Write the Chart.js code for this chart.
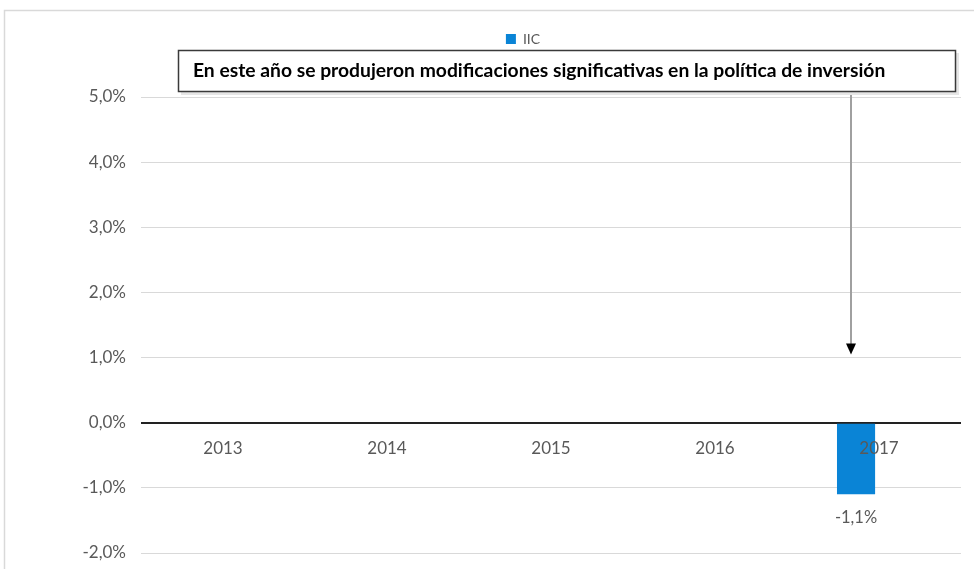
<!DOCTYPE html>
<html>
<head>
<meta charset="utf-8">
<script src="https://cdn.jsdelivr.net/npm/chart.js@4.4.1/dist/chart.umd.min.js"></script>
<style>
  html, body { margin: 0; padding: 0; background: #fff; overflow: hidden; }
  canvas { display: block; }
</style>
</head>
<body>
<canvas id="chart" width="974" height="569"></canvas>
<script>
// chart data
const years = ['2013', '2014', '2015', '2016', '2017'];
const iicValues = [null, null, null, null, -1.1];
const benchmarkValues = [null, null, null, null, null]; // empty second series, keeps IIC bar on the left of its slot
const yTicks = [5, 4, 3, 2, 1, 0, -1, -2];
const noteText = 'En este año se produjeron modificaciones significativas en la política de inversión';

const greyText = '#595959';
const fmtPct = v => v.toFixed(1).replace('.', ',') + '%';

Chart.defaults.font.family = 'Lato';

// frame, note box, arrow and value label
const extrasPlugin = {
    id: 'extras',
    beforeDraw(chart) {
        const ctx = chart.ctx;
        ctx.save();
        ctx.strokeStyle = '#d9d9d9';
        ctx.lineWidth = 1.5;
        ctx.strokeRect(4.5, 10.5, 1100, 700);
        ctx.restore();
    },
    afterDraw(chart) {
        const ctx = chart.ctx;
        const y = chart.scales.y;
        const bar = chart.getDatasetMeta(0).data[4];
        ctx.save();

        // value label under the bar
        ctx.fillStyle = greyText;
        ctx.font = '16.5px Lato';
        ctx.textAlign = 'center';
        ctx.textBaseline = 'middle';
        ctx.fillText(fmtPct(iicValues[4]), bar.x, bar.y + 23);

        // arrow
        const ax = Math.round(bar.x) - 5;
        const tipY = y.getPixelForValue(1) - 3;
        ctx.strokeStyle = '#a0a0a0';
        ctx.lineWidth = 2;
        ctx.beginPath();
        ctx.moveTo(ax, 92);
        ctx.lineTo(ax, tipY - 10);
        ctx.stroke();
        ctx.fillStyle = '#000';
        ctx.beginPath();
        ctx.moveTo(ax - 5, tipY - 11);
        ctx.lineTo(ax + 5, tipY - 11);
        ctx.lineTo(ax, tipY);
        ctx.closePath();
        ctx.fill();

        // note box
        ctx.fillStyle = '#e6e6e6';
        ctx.fillRect(181, 53, 778, 42);
        ctx.fillStyle = '#fff';
        ctx.fillRect(178, 50, 778, 42);
        ctx.strokeStyle = '#3a3a3a';
        ctx.lineWidth = 1.5;
        ctx.strokeRect(178.5, 50.5, 777, 41);
        ctx.fillStyle = '#000';
        ctx.font = 'bold 19.3px Lato';
        ctx.textAlign = 'left';
        ctx.fillText(noteText, 193, 71);

        ctx.restore();
    }
};

new Chart(document.getElementById('chart'), {
    type: 'bar',
    data: {
        labels: years,
        datasets: [{
            label: 'IIC',
            data: iicValues,
            backgroundColor: '#0a84d6',
            categoryPercentage: 0.56,
            barPercentage: 0.83
        }, {
            label: 'Índice',
            data: benchmarkValues,
            backgroundColor: '#a5a5a5',
            categoryPercentage: 0.56,
            barPercentage: 0.83
        }]
    },
    options: {
        responsive: false,
        animation: false,
        layout: {
            padding: { top: 22, left: 72, right: 0, bottom: 16 }
        },
        plugins: {
            legend: {
                display: true,
                position: 'top',
                labels: {
                    boxWidth: 10,
                    boxHeight: 10,
                    padding: 10,
                    color: greyText,
                    font: { size: 14 },
                    filter: item => item.text === 'IIC'
                }
            },
            tooltip: { enabled: false }
        },
        scales: {
            x: {
                type: 'category',
                position: { y: 0 },
                afterFit: scale => {
                    scale.paddingLeft = 0;
                    scale.paddingRight = 0;
                    scale.paddingTop = 0;
                    scale.paddingBottom = 0;
                },
                grid: { display: false, drawTicks: false },
                border: { display: false },
                // z: 1 puts the year labels on top of the bar
                ticks: { z: 1, color: greyText, font: { size: 17 }, padding: 16, maxRotation: 0 }
            },
            y: {
                min: -2,
                max: 5,
                afterFit: scale => {
                    scale.width = 69;
                    scale.paddingTop = 0;
                    scale.paddingBottom = 0;
                },
                afterBuildTicks: scale => { scale.ticks = yTicks.map(v => ({ value: v })); },
                grid: {
                    color: c => c.tick && c.tick.value === 0 ? '#222' : '#d9d9d9',
                    lineWidth: c => c.tick && c.tick.value === 0 ? 2 : 1,
                    drawTicks: false
                },
                border: { display: false },
                ticks: {
                    color: greyText,
                    font: { size: 17 },
                    padding: 15,
                    callback: v => fmtPct(v)
                }
            },
            // spacers to hold the plot area in place
            spacerRight: {
                type: 'linear',
                position: 'right',
                afterFit: scale => { scale.width = 13; },
                grid: { display: false },
                border: { display: false },
                ticks: { display: false }
            },
            spacerTop: {
                type: 'linear',
                position: 'top',
                afterFit: scale => { scale.height = 41; },
                grid: { display: false },
                border: { display: false },
                ticks: { display: false }
            }
        }
    },
    plugins: [extrasPlugin]
});
</script>
</body>
</html>
